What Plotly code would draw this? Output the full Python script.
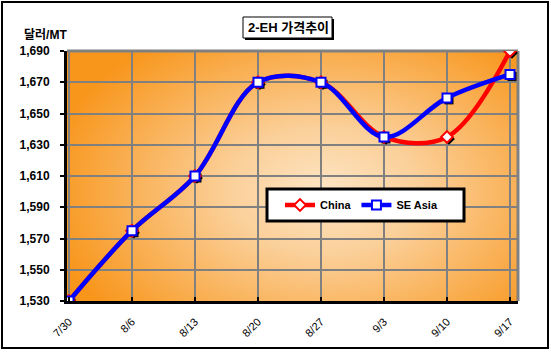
import base64
import plotly.graph_objects as go

# ---- data ----
dates = ["7/30", "8/6", "8/13", "8/20", "8/27", "9/3", "9/10", "9/17"]
china = [1530, 1575, 1610, 1670, 1670, 1635, 1635, 1690]
se_asia = [1530, 1575, 1610, 1670, 1670, 1635, 1660, 1675]
y_ticks = list(range(1530, 1691, 20))

W, H = 551, 353
L, R, T, B = 67, 518, 51, 301  # plot area in pixels
PW, PH = R - L, B - T
X0, X1 = -2 / 63, 7 + 8 / 63
Y0, Y1 = 1530, 1690


def px(x):
    return (x - L) / PW


def py(y):
    return (B - y) / PH


xs = list(range(len(dates)))
# shadow offset (2 px right, 2 px down) expressed in axis units
dx = 2 * (X1 - X0) / PW
dy = 2 * (Y1 - Y0) / PH

svg = (
    '<svg xmlns="http://www.w3.org/2000/svg" width="451" height="250" '
    'viewBox="0 0 451 250" preserveAspectRatio="none">'
    '<defs><radialGradient id="g" cx="0.57" cy="0.56" r="0.62" '
    'gradientTransform="translate(0.57 0.56) scale(1 1.2) translate(-0.57 -0.56)">'
    '<stop offset="0" stop-color="#FDE5C4"/>'
    '<stop offset="0.35" stop-color="#FBCF98"/>'
    '<stop offset="1" stop-color="#F8961C"/>'
    '</radialGradient></defs>'
    '<rect width="451" height="250" fill="url(#g)"/></svg>'
)
src = "data:image/svg+xml;base64," + base64.b64encode(svg.encode()).decode()

fig = go.Figure()
# marker shadows
for vals, sym in ((china, "diamond"), (se_asia, "square")):
    fig.add_trace(go.Scatter(
        x=[v + dx for v in xs], y=[v - dy for v in vals], mode="markers",
        marker=dict(symbol=sym, size=9, color="black"),
        showlegend=False, hoverinfo="skip",
    ))
fig.add_trace(go.Scatter(
    x=xs, y=china, name="China", mode="lines+markers",
    line=dict(color="#FF0000", width=4.5, shape="spline", smoothing=1),
    marker=dict(symbol="diamond", size=9, color="white",
                line=dict(color="#FF0000", width=2)),
))
fig.add_trace(go.Scatter(
    x=xs, y=se_asia, name="SE Asia", mode="lines+markers",
    line=dict(color="#0000FF", width=4.5, shape="spline", smoothing=1),
    marker=dict(symbol="square", size=9, color="white",
                line=dict(color="#0000FF", width=2)),
))

font_lat = "Liberation Sans, Arial, sans-serif"
font_kr = "Liberation Sans, Noto Sans CJK KR, sans-serif"

shapes = [
    # outer border
    dict(type="rect", xref="paper", yref="paper", x0=px(2), x1=px(548),
         y0=py(348), y1=py(2), line=dict(color="black", width=2),
         fillcolor="rgba(0,0,0,0)", layer="above"),
    # plot area top/right gray border
    dict(type="line", xref="paper", yref="paper", x0=0, x1=1, y0=1, y1=1,
         line=dict(color="#808080", width=3), layer="below"),
    dict(type="line", xref="paper", yref="paper", x0=1, x1=1, y0=0, y1=1,
         line=dict(color="#808080", width=3), layer="below"),
    # title box shadow + box
    dict(type="rect", xref="paper", yref="paper", x0=px(245), x1=px(334),
         y0=py(40), y1=py(19), line=dict(width=0), fillcolor="black",
         layer="above"),
    dict(type="rect", xref="paper", yref="paper", x0=px(243), x1=px(332),
         y0=py(38), y1=py(17), line=dict(color="black", width=1),
         fillcolor="white", layer="above"),
    # legend box
    dict(type="rect", xref="paper", yref="paper", x0=px(267), x1=px(464),
         y0=py(221), y1=py(189), line=dict(color="black", width=3),
         fillcolor="white", layer="above"),
]

annotations = [
    dict(text="<b>2-EH 가격추이</b>", xref="paper", yref="paper",
         x=px(288), y=py(28), showarrow=False, xanchor="center",
         yanchor="middle", font=dict(family=font_kr, size=13, color="black")),
    dict(text="<b>달러/MT</b>", xref="paper", yref="paper",
         x=px(22), y=py(35), showarrow=False, xanchor="left",
         yanchor="middle", font=dict(family=font_kr, size=12, color="black")),
]

fig.update_layout(
    width=W, height=H,
    margin=dict(l=L, r=W - R, t=T, b=H - B, pad=0),
    paper_bgcolor="white",
    plot_bgcolor="rgba(0,0,0,0)",
    images=[dict(source=src, xref="paper", yref="paper", x=0, y=1,
                 sizex=1, sizey=1, sizing="stretch", layer="below",
                 xanchor="left", yanchor="top")],
    shapes=shapes,
    annotations=annotations,
    showlegend=True,
    legend=dict(
        orientation="h", x=px(280), y=py(205), xanchor="left",
        yanchor="middle",
        bgcolor="rgba(0,0,0,0)", borderwidth=0,
        font=dict(family=font_lat, size=11, color="black", weight="bold"),
        itemwidth=30, tracegroupgap=0,
    ),
    xaxis=dict(
        range=[X0, X1], tickvals=xs, ticktext=dates,
        tickangle=-45, ticks="inside", ticklen=4, tickwidth=2,
        tickcolor="black",
        showgrid=True, gridcolor="#808080", gridwidth=2,
        showline=True, linecolor="black", linewidth=3,
        zeroline=False, ticklabelstandoff=7,
        tickfont=dict(family=font_lat, size=11, color="black"),
    ),
    yaxis=dict(
        range=[Y0, Y1], tickvals=y_ticks,
        ticktext=[f"{v:,}" for v in y_ticks],
        ticks="outside", ticklen=4, tickwidth=2, tickcolor="black",
        showgrid=True, gridcolor="#808080", gridwidth=2,
        showline=True, linecolor="black", linewidth=3,
        zeroline=False, ticklabelstandoff=8,
        tickfont=dict(family=font_lat, size=12, color="black", weight="bold"),
    ),
)

fig.write_html("out.html")
